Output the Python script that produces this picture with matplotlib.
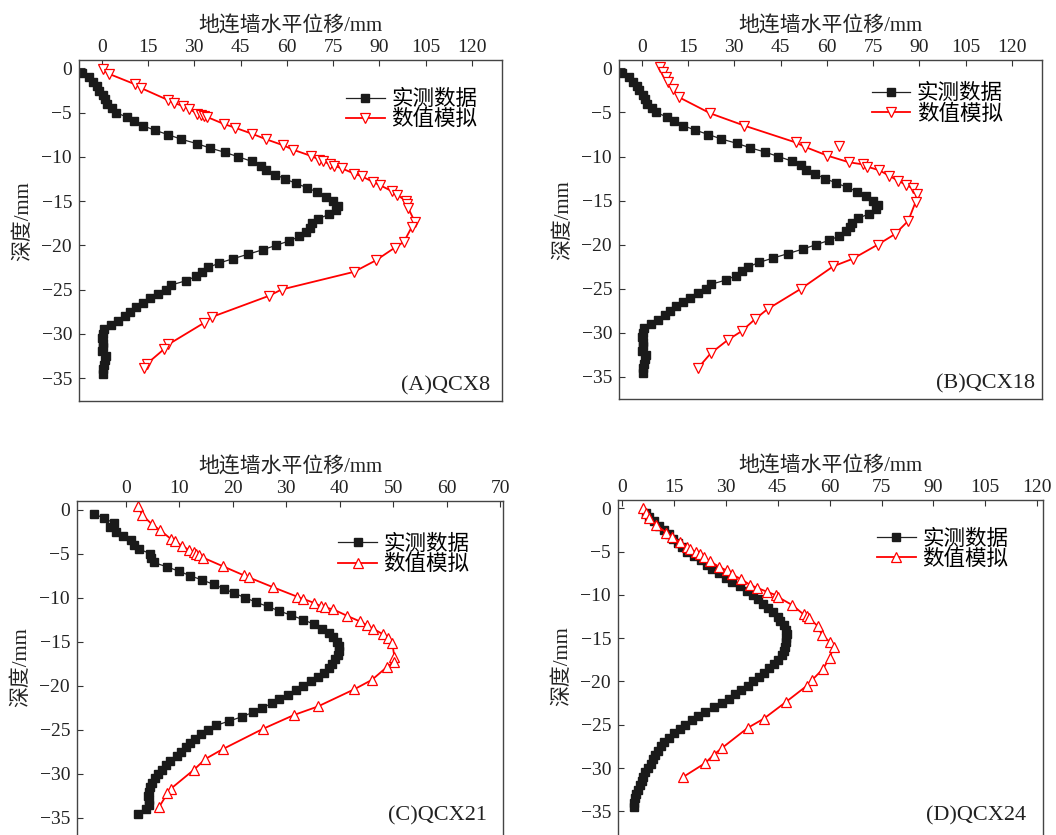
import matplotlib
matplotlib.use("Agg")
import matplotlib.pyplot as plt

plt.rcParams['font.family'] = ['Liberation Serif', 'Noto Sans CJK SC']
plt.rcParams['axes.unicode_minus'] = True

# 实测数据 (A/B 相同)
meas_ab_depth = [-0.5, -1.0, -1.5, -2.0, -2.5, -3.0, -3.5, -4.0, -4.5, -5.0, -5.5, -6.0, -6.5, -7.0,
                 -7.5, -8.0, -8.5, -9.0, -9.5, -10.0, -10.5, -11.0, -11.5, -12.0, -12.5, -13.0, -13.5,
                 -14.0, -14.5, -15.0, -15.5, -16.0, -16.5, -17.0, -17.5, -18.0, -18.5, -19.0, -19.5,
                 -20.0, -20.5, -21.0, -21.5, -22.0, -22.5, -23.0, -23.5, -24.0, -24.5, -25.0, -25.5,
                 -26.0, -26.5, -27.0, -27.5, -28.0, -28.5, -29.0, -29.5, -30.0, -30.5, -31.0, -31.5,
                 -32.0, -32.5, -33.0, -33.5, -34.0, -34.5]
meas_ab_x = [-6.5, -4.0, -2.9, -1.6, -0.8, 0.5, 1.1, 1.6, 3.2, 4.6, 8.1, 10.6, 13.5, 17.3,
             21.6, 25.7, 30.8, 35.1, 40.0, 44.3, 48.6, 51.5, 53.3, 56.3, 59.5, 63.0, 66.7,
             69.9, 72.7, 75.1, 76.7, 76.0, 73.7, 70.2, 68.1, 67.5, 66.2, 64.1, 60.8,
             56.5, 52.2, 47.5, 42.7, 38.1, 34.6, 32.4, 30.6, 27.3, 22.4, 20.7, 18.3,
             15.5, 13.2, 11.1, 9.2, 7.6, 5.3, 2.9, 0.8, 0.3, 0.2, 0.5, 0.3,
             0.1, 1.2, 0.9, 0.6, 0.5, 0.5]

sim_a_x = [0.3, 2.2, 10.8, 12.6, 21.6, 23.4, 26.3, 28.4, 31.0, 32.2, 33.2, 34.2, 39.7, 43.2, 48.8,
           53.2, 58.9, 62.1, 67.9, 70.4, 71.6, 74.0, 75.4, 77.8, 81.9, 84.3, 87.8, 90.2, 94.2, 95.9,
           98.6, 99.1, 99.4, 101.6, 100.5, 98.0, 95.1, 88.9, 81.8, 58.3, 54.3, 35.7, 33.0, 21.6,
           20.3, 14.6, 13.7]
sim_a_depth = [-0.1, -0.6, -1.8, -2.2, -3.6, -3.9, -4.25, -4.6, -5.1, -5.3, -5.4, -5.5, -6.3, -6.7,
               -7.4, -8.0, -8.7, -9.2, -9.9, -10.3, -10.5, -10.8, -11.0, -11.3, -11.9, -12.2, -12.8,
               -13.2, -13.9, -14.3, -15.0, -15.3, -15.8, -17.4, -17.95, -19.6, -20.25, -21.7, -23.0,
               -25.0, -25.7, -28.1, -28.8, -31.2, -31.7, -33.4, -33.9]

sim_b_x = [5.9, 6.8, 7.9, 8.6, 10.0, 12.2, 22.2, 33.3, 49.9, 52.9, 60.2, 67.2, 71.9, 73.1, 77.0,
           80.3, 83.2, 85.6, 87.8, 89.1, 88.8, 86.4, 82.1, 76.5, 68.4, 62.1, 51.6, 40.8, 36.7,
           32.4, 27.9, 22.4, 18.2]
sim_b_depth = [0.1, -0.45, -1.0, -1.5, -2.3, -3.3, -5.1, -6.5, -8.4, -8.9, -9.9, -10.65, -10.9, -11.15,
               -11.55, -12.2, -12.75, -13.2, -13.6, -14.2, -15.15, -17.3, -18.8, -20.0, -21.6, -22.45,
               -25.0, -27.3, -28.45, -29.8, -30.8, -32.3, -34.0]
stray_b_x = [64.0]
stray_b_depth = [-8.75]

meas_c_x = [-5.9, -4.1, -2.2, -3.0, -1.9, -0.5, 0.9, 1.6, 2.5, 4.6, 4.8, 5.2, 7.7, 10.0, 12.0, 14.3,
            16.5, 18.4, 20.3, 22.3, 24.3, 26.5, 28.7, 30.9, 33.2, 35.1, 36.6, 37.9, 38.8, 39.4, 39.9,
            39.9, 39.6, 39.1, 38.5, 37.9, 37.1, 35.9, 34.6, 33.2, 31.8, 30.4, 28.7, 27.3, 25.5,
            23.8, 21.8, 19.3, 16.9, 15.4, 14.0, 12.9, 12.1, 11.2, 10.4, 9.5, 8.2, 7.5, 6.7, 6.1,
            5.4, 4.9, 4.6, 4.3, 4.1, 4.3, 4.4, 3.7, 2.3]
meas_c_depth = [-0.45, -1.0, -1.5, -2.0, -2.5, -3.0, -3.5, -4.0, -4.5, -5.0, -5.5, -6.0, -6.5, -7.0,
                -7.5, -8.0, -8.5, -9.0, -9.5, -10.0, -10.5, -11.0, -11.5, -12.0, -12.5, -13.0, -13.5,
                -14.0, -14.5, -15.0, -15.5, -16.0, -16.5, -17.0, -17.5, -18.0, -18.5, -19.0, -19.5,
                -20.0, -20.5, -21.0, -21.5, -22.0, -22.5, -23.0, -23.5, -24.0, -24.5, -25.0, -25.5,
                -26.0, -26.5, -27.0, -27.5, -28.0, -28.5, -29.0, -29.5, -30.0, -30.5, -31.0, -31.5,
                -32.0, -32.5, -33.0, -33.5, -34.0, -34.5]

sim_c_x = [2.3, 3.1, 4.9, 6.4, 8.5, 9.2, 10.6, 11.9, 12.7, 13.2, 13.7, 14.5, 18.1, 22.1, 23.0, 27.6,
           32.1, 33.1, 35.1, 36.4, 37.2, 38.8, 41.3, 43.7, 45.0, 46.3, 48.0, 49.0, 49.8, 50.2, 50.2,
           48.9, 46.0, 42.7, 35.9, 31.5, 25.6, 18.1, 14.9, 12.8, 8.4, 7.8, 6.2]
sim_c_depth = [0.4, -0.64, -1.66, -2.34, -3.36, -3.6, -4.15, -4.6, -4.8, -5.0, -5.2, -5.47, -6.42,
               -7.47, -7.7, -8.83, -9.9, -10.12, -10.57, -10.95, -11.1, -11.33, -12.04, -12.68, -13.1,
               -13.55, -14.12, -14.53, -15.1, -16.7, -17.25, -17.82, -19.33, -20.4, -22.35, -23.3,
               -24.9, -27.2, -28.3, -29.5, -31.7, -32.2, -33.8]

meas_d_x = [7.0, 7.7, 9.2, 10.6, 12.0, 13.5, 14.7, 16.1, 17.3, 18.8, 20.7, 22.7, 24.6, 26.0, 28.0,
            29.9, 31.8, 34.0, 36.1, 37.8, 39.2, 40.7, 42.1, 43.6, 45.0, 45.6, 46.7, 47.4, 47.7, 47.4,
            47.3, 47.2, 46.7, 46.3, 45.0, 43.9, 42.4, 41.0, 39.5, 37.9, 36.3, 34.4, 32.6, 30.8,
            28.9, 26.5, 24.1, 21.9, 20.2, 18.3, 16.7, 14.9, 13.5, 12.2, 11.3, 10.3, 9.6, 9.0, 8.2,
            7.4, 6.7, 6.1, 5.6, 5.1, 4.6, 4.1, 3.8, 3.4, 3.4]
meas_d_depth = [-0.5, -1.0, -1.5, -2.0, -2.5, -3.0, -3.5, -4.0, -4.5, -5.0, -5.5, -6.0, -6.5, -7.0,
                -7.5, -8.0, -8.5, -9.0, -9.5, -10.0, -10.5, -11.0, -11.5, -12.0, -12.5, -13.0, -13.5,
                -14.0, -14.5, -15.0, -15.5, -16.0, -16.5, -17.0, -17.5, -18.0, -18.5, -19.0, -19.5,
                -20.0, -20.5, -21.0, -21.5, -22.0, -22.5, -23.0, -23.5, -24.0, -24.5, -25.0, -25.5,
                -26.0, -26.5, -27.0, -27.5, -28.0, -28.5, -29.0, -29.5, -30.0, -30.5, -31.0, -31.5,
                -32.0, -32.5, -33.0, -33.5, -34.0, -34.5]

sim_d_x = [6.1, 7.0, 7.7, 9.9, 12.8, 14.3, 16.7, 18.8, 19.6, 21.5, 22.5, 23.6, 25.3, 28.1, 30.2,
           31.8, 34.5, 37.1, 39.0, 41.9, 44.4, 45.1, 49.2, 52.5, 53.5, 54.1, 56.6, 57.8, 60.2, 61.2,
           60.0, 58.1, 54.9, 53.5, 47.4, 41.0, 36.3, 28.9, 26.5, 24.1, 17.5]
sim_d_depth = [0.0, -0.58, -1.08, -1.97, -2.81, -3.28, -3.89, -4.43, -4.74, -5.05, -5.32, -5.59,
               -6.09, -6.78, -7.17, -7.63, -8.21, -8.87, -9.18, -9.64, -10.02, -10.25, -11.18,
               -12.26, -12.45, -12.72, -13.61, -14.69, -15.46, -16.0, -17.27, -18.54, -19.85,
               -20.47, -22.36, -24.29, -25.37, -27.68, -28.45, -29.41, -31.07]

xticks_120 = [0, 15, 30, 45, 60, 75, 90, 105, 120]
xticks_70 = [0, 10, 20, 30, 40, 50, 60, 70]
yticks = [0, -5, -10, -15, -20, -25, -30, -35]

W, H = 1056, 835
fig = plt.figure(figsize=(W / 100, H / 100), dpi=100)


def make_ax(left, top, right, bottom):
    return fig.add_axes([left / W, 1 - bottom / H, (right - left) / W, (bottom - top) / H])


panels = [
    dict(box=(79, 60, 502, 401), xlim=(-7.4, 129.8), ylim=(-37.6, 0.95), xt=xticks_120,
         mx=meas_ab_x, my=meas_ab_depth, sx=sim_a_x, sy=sim_a_depth, mk='v', tag='(A)QCX8',
         leg=(0.631, 0.853), tagpos=(0.972, 0.032), ly=0.527),
    dict(box=(619, 60, 1042, 399), xlim=(-7.4, 129.8), ylim=(-37.5, 0.95), xt=xticks_120,
         mx=meas_ab_x, my=meas_ab_depth, sx=sim_b_x, sy=sim_b_depth, mk='v', tag='(B)QCX18',
         leg=(0.597, 0.869), tagpos=(0.983, 0.032), ly=0.527),
    dict(box=(77, 501, 503, 840), xlim=(-9.1, 70.5), ylim=(-37.5, 0.97), xt=xticks_70,
         mx=meas_c_x, my=meas_c_depth, sx=sim_c_x, sy=sim_c_depth, mk='^', tag='(C)QCX21',
         leg=(0.613, 0.841), tagpos=(0.962, 0.057), ly=0.51),
    dict(box=(618, 500, 1043, 839), xlim=(-1.2, 121.7), ylim=(-38.2, 0.96), xt=xticks_120,
         mx=meas_d_x, my=meas_d_depth, sx=sim_d_x, sy=sim_d_depth, mk='^', tag='(D)QCX24',
         leg=(0.609, 0.853), tagpos=(0.96, 0.056), ly=0.51),
]

for i, p in enumerate(panels):
    ax = make_ax(*p['box'])
    ax.plot(p['mx'], p['my'], color='#222222', lw=0.9, marker='s', ms=5.2,
            mfc='#1a1a1a', mec='#1a1a1a', label='实测数据')
    ax.plot(p['sx'], p['sy'], color='#ff0000', lw=1.3, marker=p['mk'], ms=6.5,
            mfc='white', mec='#ff0000', mew=0.9, label='数值模拟')
    if i == 1:
        ax.plot(stray_b_x, stray_b_depth, ls='none', marker='v', ms=6.5,
                mfc='white', mec='#ff0000', mew=0.9)
    ax.set_xlim(*p['xlim'])
    ax.set_ylim(*p['ylim'])
    ax.set_xticks(p['xt'])
    ax.set_yticks(yticks)
    ax.xaxis.tick_top()
    ax.xaxis.set_label_position('top')
    ax.tick_params(axis='both', direction='in', length=4, width=0.8, labelsize=14,
                   colors='#333333', labelcolor='#222222')
    ax.tick_params(axis='x', pad=3)
    ax.tick_params(axis='y', pad=5)
    ax.set_xlabel('地连墙水平位移/mm', fontsize=15, labelpad=5, color='#222222')
    ax.set_ylabel('深度/mm', fontsize=15, labelpad=6, color='#222222')
    ax.yaxis.label.set_y(p['ly'])
    for s in ax.spines.values():
        s.set_color('#444444')
        s.set_linewidth(1.0)
    ax.legend(loc='center left', bbox_to_anchor=p['leg'], frameon=False, fontsize=15.5,
              handlelength=1.8, handletextpad=0.3, labelspacing=0.0, borderpad=0,
              borderaxespad=0)
    ax.text(p['tagpos'][0], p['tagpos'][1], p['tag'], transform=ax.transAxes, ha='right',
            va='baseline', fontsize=16, color='#222222')

fig.savefig('out.png', dpi=100)
